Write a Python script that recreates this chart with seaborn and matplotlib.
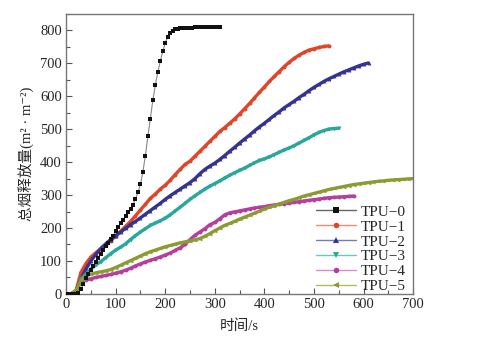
import numpy as np
import pandas as pd
import matplotlib
matplotlib.use("Agg")
import matplotlib.pyplot as plt
from matplotlib.lines import Line2D
from matplotlib.ticker import MultipleLocator
import seaborn as sns

# ---- data ----
t0 = list(range(0, 315, 5))
v0 = [0, 0, 0, 0, 0, 3, 15, 30, 47, 60, 72, 85, 97, 110, 122, 133, 144, 155, 166, 177,
      190, 202, 214, 225, 238, 249, 259, 271, 288, 308, 333, 371, 420, 478, 532, 588,
      633, 673, 706, 736, 762, 780, 792, 799, 803, 805, 806, 807, 807, 808, 808, 808,
      809, 809, 809, 809, 809, 810, 810, 810, 810, 810, 810]

t1 = list(range(0, 540, 10))
v1 = [0, 0, 10, 65, 92, 112, 125, 137, 150, 162, 175, 190, 205, 220, 237, 255, 272, 290,
      303, 318, 330, 345, 362, 378, 393, 403, 418, 433, 448, 463, 478, 493, 505, 518, 531,
      546, 562, 578, 595, 612, 628, 645, 660, 675, 690, 703, 715, 725, 733, 740, 744, 748,
      751, 753]

t2 = list(range(0, 620, 10))
v2 = [0, 0, 5, 45, 75, 100, 120, 138, 152, 165, 177, 188, 199, 210, 220, 231, 242, 253,
      264, 275, 287, 298, 308, 318, 328, 338, 350, 365, 378, 388, 397, 408, 420, 433, 445,
      458, 470, 482, 495, 507, 518, 530, 542, 553, 565, 575, 585, 596, 606, 617, 627, 636,
      645, 653, 660, 667, 674, 680, 686, 692, 697, 701]

t3 = list(range(0, 560, 10))
v3 = [0, 0, 5, 45, 60, 75, 88, 98, 110, 122, 133, 142, 152, 165, 177, 188, 198, 208, 215,
      222, 230, 240, 252, 263, 275, 287, 298, 308, 318, 327, 335, 343, 352, 360, 368, 375,
      382, 390, 398, 405, 410, 416, 423, 430, 437, 443, 450, 458, 466, 474, 483, 490, 496,
      500, 502, 503]

t4 = list(range(0, 590, 10))
v4 = [0, 0, 10, 35, 42, 46, 50, 53, 56, 59, 63, 67, 72, 78, 85, 91, 97, 102, 107, 112, 118,
      124, 132, 140, 150, 165, 178, 188, 198, 210, 217, 228, 240, 246, 249, 252, 255, 258,
      261, 263, 265, 268, 270, 272, 274, 276, 278, 280, 282, 284, 286, 288, 290, 292, 293,
      294, 295, 296, 297]

t5 = list(range(0, 710, 10))
v5 = [0, 0, 10, 40, 55, 60, 64, 67, 70, 74, 80, 87, 94, 101, 108, 115, 122, 128, 133, 138,
      143, 147, 151, 155, 158, 161, 164, 168, 175, 183, 192, 200, 208, 214, 220, 227, 233,
      239, 245, 251, 258, 263, 268, 273, 278, 283, 287, 292, 297, 301, 305, 309, 313, 317,
      320, 323, 326, 329, 332, 334, 336, 338, 340, 342, 343, 345, 346, 347, 348, 349, 350]

labels = ["TPU−0", "TPU−1", "TPU−2", "TPU−3", "TPU−4", "TPU−5"]
colors = ["#111111", "#e0452a", "#34348f", "#2aa79b", "#b3409f", "#8c9a32"]
markers = ["s", "o", "^", "v", "o", "<"]
x_ticks = [0, 100, 200, 300, 400, 500, 600, 700]
y_ticks = [0, 100, 200, 300, 400, 500, 600, 700, 800]

series = [(t0, v0), (t1, v1), (t2, v2), (t3, v3), (t4, v4), (t5, v5)]

sns.set_theme(style="white")
plt.rcParams['font.family'] = ['Liberation Serif', 'Noto Sans CJK SC', 'DejaVu Sans']
plt.rcParams['axes.unicode_minus'] = True

fig = plt.figure(figsize=(4.93, 3.47), dpi=100)
ax = fig.add_axes([0.134, 0.153, 0.704, 0.807])

frames = []
for (t, v), lab in zip(series, labels):
    frames.append(pd.DataFrame({"time": t, "value": v, "series": lab}))
df = pd.concat(frames, ignore_index=True)

for i, lab in enumerate(labels):
    sub = df[df["series"] == lab]
    if i == 0:
        sns.lineplot(data=sub, x="time", y="value", ax=ax, color="#888888", lw=0.8,
                     marker=markers[i], markersize=3.2, markeredgewidth=0,
                     markerfacecolor=colors[i], legend=False, estimator=None, sort=False,
                     zorder=3)
    else:
        sns.lineplot(data=sub, x="time", y="value", ax=ax, color=colors[i], lw=2.4,
                     marker=markers[i], markersize=2.8, markeredgewidth=0,
                     legend=False, estimator=None, sort=False, zorder=2)

ax.set_xlim(0, 700)
ax.set_ylim(0, 850)
ax.set_xticks(x_ticks)
ax.set_yticks(y_ticks)
ax.xaxis.set_minor_locator(MultipleLocator(50))
ax.yaxis.set_minor_locator(MultipleLocator(50))
ax.tick_params(axis="both", which="both", direction="in", bottom=True, left=True,
               top=False, right=False, color="#555555", labelsize=10.5, pad=3)
ax.tick_params(which="major", length=4, width=0.8)
ax.tick_params(which="minor", length=3, width=0.8)
for sp in ax.spines.values():
    sp.set_color("#777777")
    sp.set_linewidth(1.0)

ax.set_xlabel("时间/s", fontsize=10.5, labelpad=6)
ax.set_ylabel("总烟释放量(m² · m⁻²)", fontsize=10.5, labelpad=4)

light = ["#666666", "#f08a70", "#7a7ab8", "#6cc7bd", "#d98bcb", "#b0bb6a"]
handles = [Line2D([0], [0], color=light[i], lw=1.0, marker=markers[i], markersize=4,
                  markerfacecolor=colors[i], markeredgewidth=0) for i in range(6)]
ax.legend(handles, labels, loc="lower right", frameon=False, fontsize=11,
          handlelength=2.6, handletextpad=0.3, labelspacing=0.08,
          borderaxespad=0.1, bbox_to_anchor=(1.0, -0.025))

fig.savefig("out.png", dpi=100)
